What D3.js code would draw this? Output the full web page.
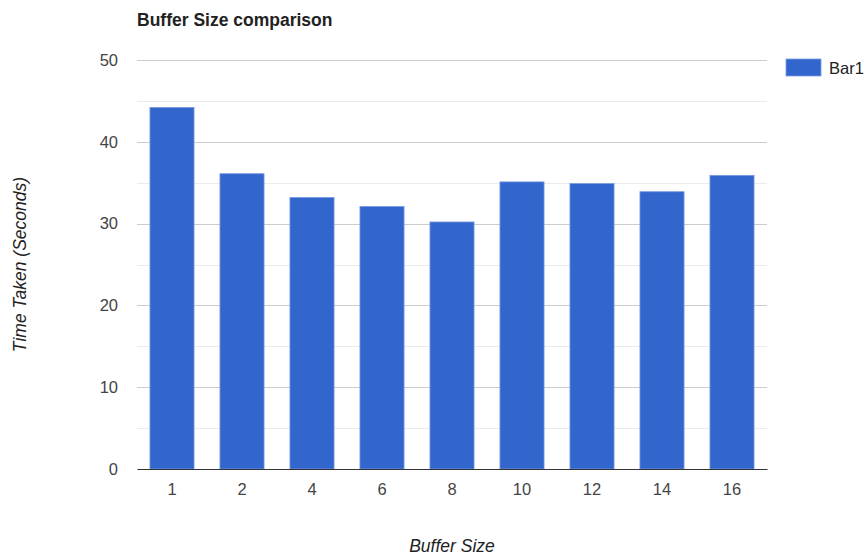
<!DOCTYPE html>
<html>
<head>
<meta charset="utf-8">
<script src="https://cdn.jsdelivr.net/npm/d3@7"></script>
<style>
  html, body { margin: 0; padding: 0; background: #fff; }
  svg { display: block; font-family: Arial, "Liberation Sans", sans-serif; }
</style>
</head>
<body>
<svg id="chart" width="865" height="555"></svg>
<script>
// Buffer sizes and measured run times (seconds)
const categories = ["1", "2", "4", "6", "8", "10", "12", "14", "16"];
const timeTaken = [44.2, 36.1, 33.2, 32.1, 30.2, 35.1, 34.9, 33.9, 35.9];
const yTicks = [0, 10, 20, 30, 40, 50];
const yMinorTicks = [5, 15, 25, 35, 45];
const seriesName = "Bar1";

const svg = d3.select("#chart");
const margin = { left: 137, right: 98, top: 60, bottom: 86 };
const width = 865, height = 555;

const x = d3.scaleBand()
  .domain(categories)
  .range([margin.left, width - margin.right])
  .paddingInner(0.37)
  .paddingOuter(0.185);

const y = d3.scaleLinear()
  .domain([0, 50])
  .range([height - margin.bottom, margin.top]);

// Title
svg.append("text")
  .attr("x", margin.left)
  .attr("y", 26)
  .attr("font-size", 17.5)
  .attr("font-weight", "bold")
  .attr("fill", "#222")
  .text("Buffer Size comparison");

// Minor gridlines
svg.append("g")
  .selectAll("line")
  .data(yMinorTicks)
  .join("line")
  .attr("x1", margin.left)
  .attr("x2", width - margin.right)
  .attr("y1", d => Math.round(y(d)) + 0.5)
  .attr("y2", d => Math.round(y(d)) + 0.5)
  .attr("stroke", "#ebebeb");

// Major gridlines
svg.append("g")
  .selectAll("line")
  .data(yTicks.filter(d => d !== 0))
  .join("line")
  .attr("x1", margin.left)
  .attr("x2", width - margin.right)
  .attr("y1", d => Math.round(y(d)) + 0.5)
  .attr("y2", d => Math.round(y(d)) + 0.5)
  .attr("stroke", "#cccccc");

// Y axis labels
const yAxis = d3.axisLeft(y).tickValues(yTicks).tickSize(0).tickPadding(19);
const gy = svg.append("g")
  .attr("transform", `translate(${margin.left},0)`)
  .call(yAxis);
gy.select(".domain").remove();
gy.selectAll("text")
  .attr("font-size", 16.5)
  .attr("font-family", "Arial, 'Liberation Sans', sans-serif")
  .attr("fill", "#444");

// Bars
svg.append("g")
  .selectAll("rect")
  .data(timeTaken)
  .join("rect")
  .attr("x", (d, i) => x(categories[i]))
  .attr("y", d => y(d))
  .attr("width", x.bandwidth())
  .attr("height", d => y(0) - y(d))
  .attr("fill", "#3366cc")
  .attr("stroke", "#7a9be0")
  .attr("stroke-width", 0.8);

// X axis
const xAxis = d3.axisBottom(x).tickSize(0).tickPadding(14);
const gx = svg.append("g")
  .attr("transform", `translate(0,${y(0)})`)
  .call(xAxis);
gx.select(".domain")
  .attr("stroke", "#333")
  .attr("stroke-width", 1.2);
gx.selectAll("text")
  .attr("font-size", 16.5)
  .attr("font-family", "Arial, 'Liberation Sans', sans-serif")
  .attr("fill", "#444");

// Axis titles
svg.append("text")
  .attr("x", (margin.left + width - margin.right) / 2)
  .attr("y", 552)
  .attr("text-anchor", "middle")
  .attr("font-size", 17.5)
  .attr("font-style", "italic")
  .attr("fill", "#222")
  .text("Buffer Size");

svg.append("text")
  .attr("transform", `translate(26,${(margin.top + height - margin.bottom) / 2}) rotate(-90)`)
  .attr("text-anchor", "middle")
  .attr("font-size", 17.5)
  .attr("font-style", "italic")
  .attr("fill", "#222")
  .text("Time Taken (Seconds)");

// Legend
const legend = svg.append("g").attr("transform", "translate(786,59)");
legend.append("rect")
  .attr("width", 35)
  .attr("height", 17)
  .attr("fill", "#3366cc")
  .attr("stroke", "#7a9be0")
  .attr("stroke-width", 0.8);
legend.append("text")
  .attr("x", 43)
  .attr("y", 15)
  .attr("font-size", 16.5)
  .attr("fill", "#222")
  .text(seriesName);
</script>
</body>
</html>
